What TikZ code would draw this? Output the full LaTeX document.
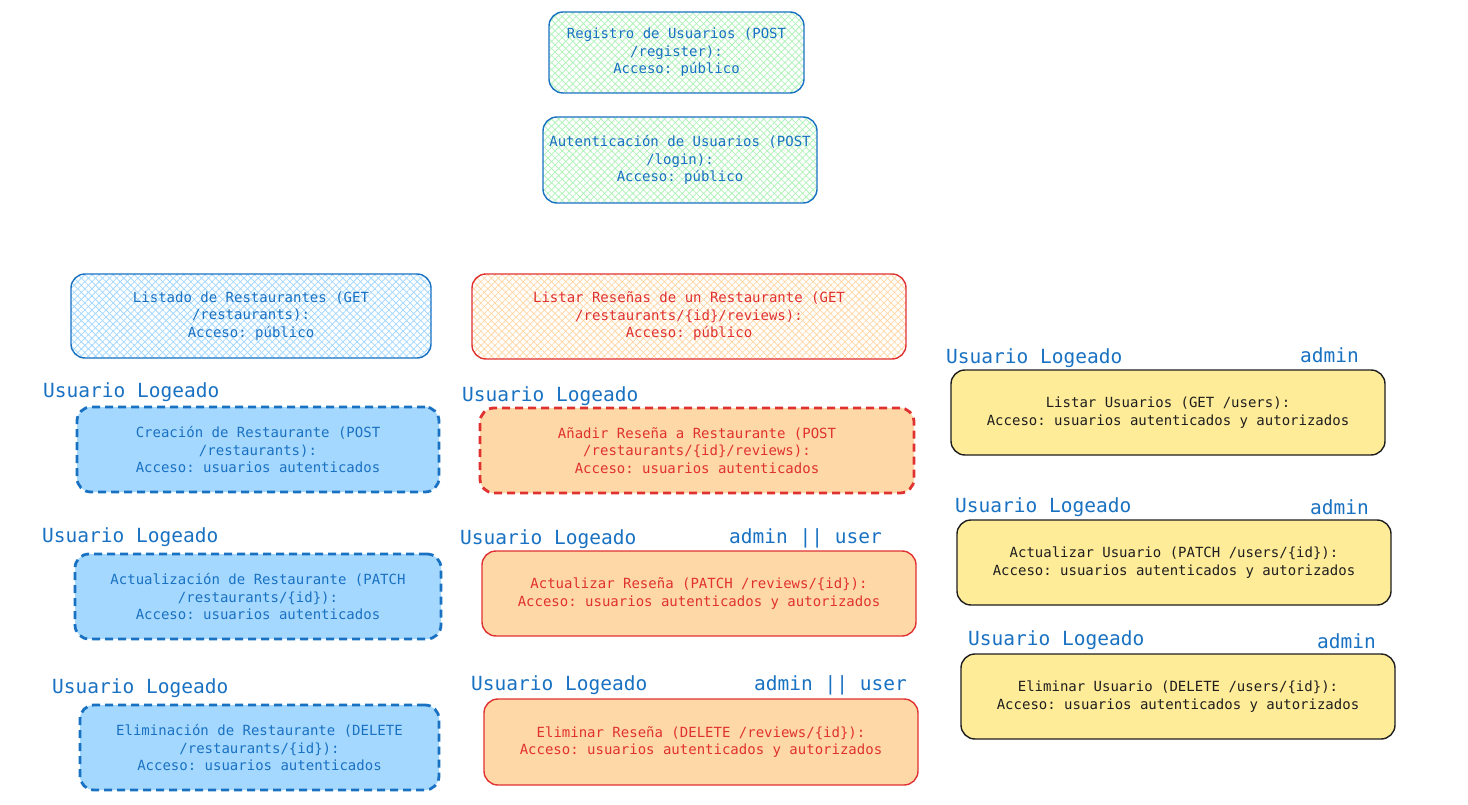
\documentclass[tikz,border=0pt]{standalone}
\usepackage{fontspec}
\setmonofont{DejaVu Sans Mono}
\usetikzlibrary{patterns.meta}
\definecolor{bluetxt}{HTML}{1971C2}
\definecolor{redtxt}{HTML}{E03131}
\definecolor{greenfill}{HTML}{B2F2BB}
\definecolor{bluefill}{HTML}{A5D8FF}
\definecolor{orangefill}{HTML}{FFD8A8}
\definecolor{yellowfill}{HTML}{FFEC99}
\definecolor{darktxt}{HTML}{1E1E1E}
\begin{document}
\begin{tikzpicture}[x=1pt, y=-1pt,
  box/.style={rounded corners=14pt, line width=1.4pt, align=center, inner sep=0pt,
    font=\ttfamily\fontsize{14}{17.5}\selectfont},
  hatch/.style={pattern={Lines[angle=45,distance=5pt,line width=0.8pt]}, pattern color=#1,
    preaction={pattern={Lines[angle=-45,distance=5pt,line width=0.8pt]}, pattern color=#1}},
  pubbox/.style={box, draw=bluetxt, text=bluetxt, hatch=greenfill},
  restpub/.style={box, draw=bluetxt, text=bluetxt, hatch=bluefill},
  revpub/.style={box, draw=redtxt, text=redtxt, hatch=orangefill},
  restbox/.style={box, draw=bluetxt, text=bluetxt, fill=bluefill, line width=2.8pt, dash pattern=on 8pt off 5pt},
  revdash/.style={box, draw=redtxt, text=redtxt, fill=orangefill, line width=2.8pt, dash pattern=on 8pt off 5pt},
  revbox/.style={box, draw=redtxt, text=redtxt, fill=orangefill},
  usrbox/.style={box, draw=darktxt, text=darktxt, fill=yellowfill},
  role/.style={anchor=west, inner sep=0pt, text=bluetxt, font=\ttfamily\fontsize{19.5}{22}\selectfont}]
\useasboundingbox (0,0) rectangle (1468,805);

% publico
\node[pubbox, minimum width=255pt, minimum height=81pt] (reg) at (676.5,52.5)
  {Registro de Usuarios (POST\\/register):\\Acceso: público};
\node[pubbox, minimum width=274pt, minimum height=86pt] (auth) at (680,160)
  {Autenticación de Usuarios (POST\\/login):\\Acceso: público};
\node[restpub, minimum width=360pt, minimum height=84pt] (listrest) at (251,316)
  {Listado de Restaurantes (GET\\/restaurants):\\Acceso: público};
\node[revpub, minimum width=434pt, minimum height=85pt] (listrev) at (689,316.5)
  {Listar Reseñas de un Restaurante (GET\\/restaurants/\{id\}/reviews):\\Acceso: público};

% restaurantes
\node[restbox, minimum width=362pt, minimum height=85pt] (createrest) at (258,449.5)
  {Creación de Restaurante (POST\\/restaurants):\\Acceso: usuarios autenticados};
\node[restbox, minimum width=366pt, minimum height=85pt] (updrest) at (258,596.5)
  {Actualización de Restaurante (PATCH\\/restaurants/\{id\}):\\Acceso: usuarios autenticados};
\node[restbox, minimum width=359pt, minimum height=85pt] (delrest) at (259.5,747.5)
  {Eliminación de Restaurante (DELETE\\/restaurants/\{id\}):\\Acceso: usuarios autenticados};

% resenas
\node[revdash, minimum width=434pt, minimum height=85pt] (addrev) at (697,450.5)
  {Añadir Reseña a Restaurante (POST\\/restaurants/\{id\}/reviews):\\Acceso: usuarios autenticados};
\node[revbox, minimum width=434pt, minimum height=85pt] (updrev) at (699,593.5)
  {Actualizar Reseña (PATCH /reviews/\{id\}):\\Acceso: usuarios autenticados y autorizados};
\node[revbox, minimum width=434pt, minimum height=86pt] (delrev) at (701,742)
  {Eliminar Reseña (DELETE /reviews/\{id\}):\\Acceso: usuarios autenticados y autorizados};

% usuarios
\node[usrbox, minimum width=434pt, minimum height=85pt] (listusr) at (1168,412.5)
  {Listar Usuarios (GET /users):\\Acceso: usuarios autenticados y autorizados};
\node[usrbox, minimum width=434pt, minimum height=85pt] (updusr) at (1174,562.5)
  {Actualizar Usuario (PATCH /users/\{id\}):\\Acceso: usuarios autenticados y autorizados};
\node[usrbox, minimum width=434pt, minimum height=85pt] (delusr) at (1178,696.5)
  {Eliminar Usuario (DELETE /users/\{id\}):\\Acceso: usuarios autenticados y autorizados};

% etiquetas
\node[role] (lg1) at (43,392) {Usuario Logeado};
\node[role] (lg2) at (42,537) {Usuario Logeado};
\node[role] (lg3) at (52,688) {Usuario Logeado};
\node[role] (lg4) at (462,396) {Usuario Logeado};
\node[role] (lg5) at (460,539) {Usuario Logeado};
\node[role] (lg6) at (471,685) {Usuario Logeado};
\node[role] (lg7) at (946,358) {Usuario Logeado};
\node[role] (lg8) at (955,507) {Usuario Logeado};
\node[role] (lg9) at (968,640) {Usuario Logeado};
\node[role] (au1) at (729,538) {admin || user};
\node[role] (au2) at (754,685) {admin || user};
\node[role] (ad1) at (1300,355) {admin};
\node[role] (ad2) at (1310,507) {admin};
\node[role] (ad3) at (1317,641) {admin};
\end{tikzpicture}
\end{document}
